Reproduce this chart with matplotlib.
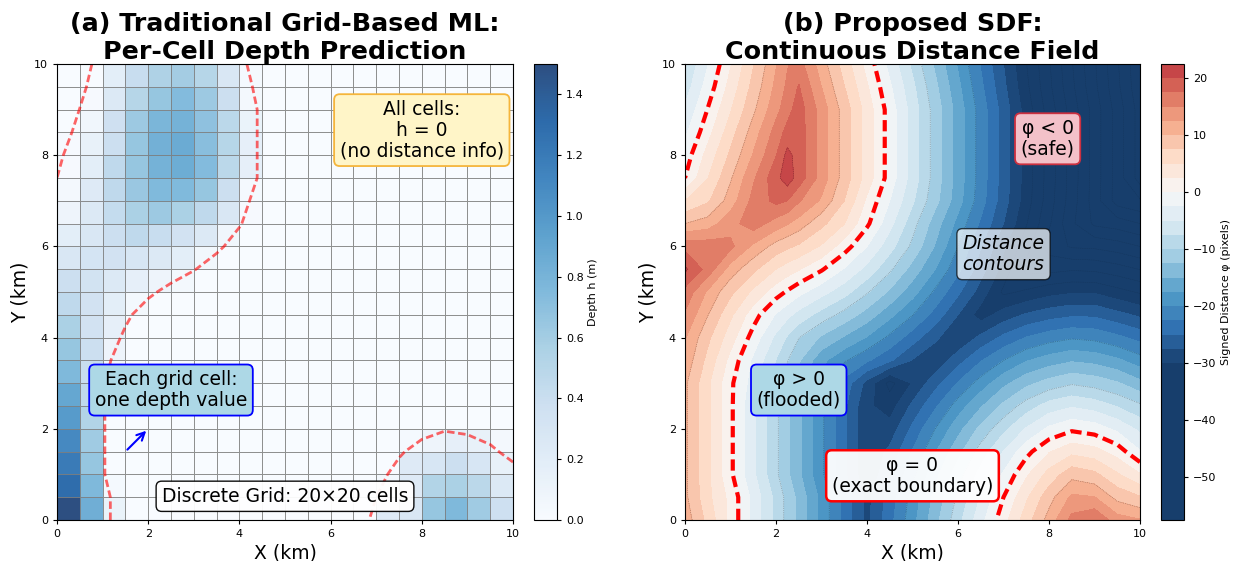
import numpy as np
import matplotlib
matplotlib.use('Agg')
import matplotlib.pyplot as plt

# grid of the signed distance field (km), 2.25 column added for the ridge
x_km = [0, 0.5, 1, 1.5, 2, 2.25, 2.5, 3, 3.5, 4, 4.5, 5, 5.5, 6, 6.5, 7, 7.5, 8, 8.5, 9, 9.5, 10]
y_km = [0, 0.5, 1, 1.5, 2, 2.5, 3, 3.5, 4, 4.5, 5, 5.5, 6, 6.5, 7, 7.5, 8, 8.5, 9, 9.5, 10]

phi_rows = [
    [11.5, 6.7, 1.7, -3.3, -8.3, -10.8, -13.3, -18.3, -23.3, -28.3, -23.4, -18.4, -13.4, -8.4, -3.4, 1.5, 6.3, 11.0, 15.8, 17.3, 13.6, 12.7],
    [10.6, 5.7, 1.7, -3.3, -8.3, -10.8, -13.3, -18.3, -23.3, -28.3, -23.9, -19.0, -14.3, -9.5, -4.8, 0.0, 4.6, 9.0, 13.0, 12.6, 9.2, 7.7],
    [10.5, 5.5, 0.5, -4.5, -9.5, -12.0, -14.5, -19.5, -24.5, -29.5, -25.6, -20.7, -15.8, -11.1, -6.6, -2.1, 2.1, 5.9, 9.1, 8.1, 5.3, 2.7],
    [10.5, 5.5, 0.5, -4.5, -9.5, -12.0, -14.5, -19.5, -24.5, -29.5, -26.9, -22.3, -17.7, -13.3, -8.9, -4.9, -0.8, 2.3, 4.3, 3.5, 1.4, -2.3],
    [10.5, 5.5, 0.5, -4.5, -9.5, -12.0, -14.5, -19.5, -24.5, -29.5, -29.0, -24.4, -20.0, -15.9, -11.8, -8.2, -4.8, -2.0, -0.5, -1.2, -3.1, -5.6],
    [10.5, 5.5, 0.5, -4.5, -9.5, -12.0, -14.5, -19.5, -24.5, -29.5, -31.2, -26.9, -22.9, -18.8, -15.3, -11.9, -8.8, -6.4, -5.3, -6.1, -7.7, -9.5],
    [10.5, 5.5, 0.5, -3.6, -8.5, -11.0, -13.4, -18.4, -23.4, -28.4, -33.3, -29.8, -25.9, -22.3, -18.9, -15.7, -13.2, -11.5, -10.3, -11.0, -12.2, -14.3],
    [11.7, 6.7, 1.7, -3.0, -7.6, -9.9, -12.2, -16.8, -19.7, -22.1, -24.6, -27.7, -29.4, -26.0, -22.7, -20.0, -17.7, -16.3, -15.3, -15.8, -17.0, -18.9],
    [12.7, 8.1, 3.6, -1.0, -5.6, -7.8, -9.9, -12.9, -15.3, -17.7, -20.6, -23.8, -27.0, -29.7, -26.9, -24.4, -22.4, -21.1, -20.3, -20.7, -21.9, -23.4],
    [14.7, 10.1, 5.5, 1.1, -2.7, -4.3, -5.9, -8.5, -10.9, -13.6, -16.8, -19.9, -23.5, -27.5, -31.2, -28.9, -27.2, -26.1, -25.4, -25.5, -26.7, -28.0],
    [16.7, 12.1, 8.1, 4.4, 1.1, -0.3, -1.7, -4.1, -6.5, -9.7, -12.9, -16.5, -20.5, -24.5, -28.6, -33.0, -32.1, -30.9, -30.3, -30.3, -31.6, -32.8],
    [20.5, 16.5, 11.4, 8.1, 5.0, 3.8, 2.7, 0.3, -2.7, -5.8, -9.5, -13.5, -17.5, -21.8, -26.4, -31.0, -35.8, -35.8, -35.3, -35.5, -36.4, -37.6],
    [16.7, 16.5, 15.6, 12.0, 9.0, 8.0, 7.1, 4.7, 1.2, -2.5, -6.5, -10.6, -15.2, -20.0, -24.9, -29.6, -34.0, -38.6, -40.3, -40.5, -41.3, -42.5],
    [10.0, 11.2, 14.1, 16.3, 13.9, 12.7, 11.4, 8.2, 5.1, 0.5, -4.2, -9.0, -13.8, -18.3, -22.9, -27.5, -32.3, -37.1, -42.0, -45.5, -46.2, -47.5],
    [5.0, 7.1, 11.2, 15.8, 18.2, 17.5, 15.3, 12.1, 7.5, 2.0, -2.5, -7.1, -11.7, -16.5, -21.4, -26.4, -31.3, -36.3, -41.3, -46.2, -51.1, -52.2],
    [0.0, 4.9, 9.7, 14.6, 19.2, 21.4, 18.9, 13.9, 8.9, 3.9, -1.1, -6.1, -11.1, -16.1, -21.1, -26.1, -31.1, -36.1, -41.1, -46.1, -51.1, -56.1],
    [-1.3, 3.4, 8.0, 12.7, 17.4, 20.8, 18.9, 13.9, 8.9, 3.9, -1.1, -6.1, -11.1, -16.1, -21.1, -26.1, -31.1, -36.1, -41.1, -46.1, -51.1, -56.1],
    [-3.0, 1.6, 6.4, 11.2, 16.0, 18.4, 18.9, 13.9, 8.9, 3.9, -1.1, -6.1, -11.1, -16.1, -21.1, -26.1, -31.1, -36.1, -41.1, -46.1, -51.1, -56.1],
    [-4.6, 0.1, 4.8, 9.5, 14.2, 16.5, 18.8, 13.9, 8.9, 3.9, -1.1, -6.1, -11.1, -16.1, -21.1, -26.1, -31.1, -36.1, -41.1, -46.1, -51.1, -56.1],
    [-6.3, -1.4, 3.4, 8.3, 13.1, 15.5, 17.7, 12.5, 7.6, 2.8, -2.1, -6.9, -11.9, -16.9, -21.9, -26.9, -31.9, -36.9, -41.9, -46.9, -51.9, -56.9],
    [-7.5, -2.6, 2.3, 7.3, 12.3, 14.8, 16.1, 11.2, 6.4, 1.6, -3.3, -8.1, -13.0, -17.8, -22.7, -27.5, -32.4, -37.2, -42.3, -47.2, -52.2, -57.1],
]

# depth per cell (m), bottom row first, 20 x 20
depth_rows = [
    [1.50, 0.84, 0.12, 0, 0, 0, 0, 0, 0, 0, 0, 0, 0, 0, 0.23, 0.28, 0.66, 0.76, 0.62, 0.38],
    [1.30, 0.76, 0.03, 0, 0, 0, 0, 0, 0, 0, 0, 0, 0, 0, 0.05, 0.23, 0.53, 0.57, 0.48, 0.25],
    [1.20, 0.66, 0, 0, 0, 0, 0, 0, 0, 0, 0, 0, 0, 0, 0, 0.23, 0.29, 0.39, 0.29, 0.14],
    [1.10, 0.62, 0, 0, 0, 0, 0, 0, 0, 0, 0, 0, 0, 0, 0, 0.03, 0.09, 0.16, 0.14, 0.05],
    [0.98, 0.53, 0, 0, 0, 0, 0, 0, 0, 0, 0, 0, 0, 0, 0, 0, 0, 0, 0, 0],
    [0.90, 0.46, 0, 0, 0, 0, 0, 0, 0, 0, 0, 0, 0, 0, 0, 0, 0, 0, 0, 0],
    [0.76, 0.41, 0.05, 0, 0, 0, 0, 0, 0, 0, 0, 0, 0, 0, 0, 0, 0, 0, 0, 0],
    [0.66, 0.39, 0.09, 0, 0, 0, 0, 0, 0, 0, 0, 0, 0, 0, 0, 0, 0, 0, 0, 0],
    [0.57, 0.35, 0.16, 0, 0, 0, 0, 0, 0, 0, 0, 0, 0, 0, 0, 0, 0, 0, 0, 0],
    [0.46, 0.35, 0.18, 0.05, 0, 0, 0, 0, 0, 0, 0, 0, 0, 0, 0, 0, 0, 0, 0, 0],
    [0.39, 0.34, 0.25, 0.16, 0.09, 0.05, 0, 0, 0, 0, 0, 0, 0, 0, 0, 0, 0, 0, 0, 0],
    [0.28, 0.32, 0.35, 0.29, 0.25, 0.18, 0.06, 0, 0, 0, 0, 0, 0, 0, 0, 0, 0, 0, 0, 0],
    [0.18, 0.28, 0.39, 0.46, 0.41, 0.35, 0.25, 0.07, 0, 0, 0, 0, 0, 0, 0, 0, 0, 0, 0, 0],
    [0.09, 0.25, 0.43, 0.57, 0.63, 0.57, 0.46, 0.28, 0.02, 0, 0, 0, 0, 0, 0, 0, 0, 0, 0, 0],
    [0.05, 0.23, 0.46, 0.64, 0.75, 0.75, 0.66, 0.39, 0.03, 0, 0, 0, 0, 0, 0, 0, 0, 0, 0, 0],
    [0.02, 0.18, 0.46, 0.66, 0.81, 0.85, 0.74, 0.48, 0.16, 0, 0, 0, 0, 0, 0, 0, 0, 0, 0, 0],
    [0.02, 0.14, 0.39, 0.66, 0.83, 0.87, 0.72, 0.51, 0.16, 0, 0, 0, 0, 0, 0, 0, 0, 0, 0, 0],
    [0, 0.07, 0.37, 0.63, 0.78, 0.81, 0.69, 0.48, 0.12, 0, 0, 0, 0, 0, 0, 0, 0, 0, 0, 0],
    [0, 0.02, 0.25, 0.51, 0.66, 0.74, 0.63, 0.39, 0.05, 0, 0, 0, 0, 0, 0, 0, 0, 0, 0, 0],
    [0, 0, 0.18, 0.41, 0.55, 0.60, 0.51, 0.28, 0.03, 0, 0, 0, 0, 0, 0, 0, 0, 0, 0, 0],
]

phi = np.array(phi_rows)
depth = np.array(depth_rows)
edges = np.linspace(0, 10, 21)

W, H = 1235, 561
dash = (0, (2.7, 1.3))

def px_axes(x0, x1, y0, y1):
    return fig.add_axes([x0 / W, 1 - y1 / H, (x1 - x0) / W, (y1 - y0) / H])

fig = plt.figure(figsize=(W / 100, H / 100), dpi=100)
ax1 = px_axes(57, 513, 64, 520)
cax1 = px_axes(534, 557, 64, 520)
ax2 = px_axes(685, 1140, 64, 520)
cax2 = px_axes(1161, 1184, 64, 520)

# (a) grid cells
mesh = ax1.pcolormesh(edges, edges, depth, cmap='Blues', vmin=0, vmax=1.5, alpha=0.85,
                      edgecolors='gray', linewidth=0.7)
ax1.contour(x_km, y_km, phi, levels=[0], colors='red', linewidths=2, linestyles=[dash], alpha=0.6)
ax1.set_title('(a) Traditional Grid-Based ML:\nPer-Cell Depth Prediction', fontsize=18.3,
              fontweight='bold', pad=3, linespacing=1.22)
ax1.text(8, 8.55, 'All cells:\nh = 0\n(no distance info)', fontsize=13.5, ha='center', va='center',
         linespacing=1.12, bbox=dict(boxstyle='round,pad=0.3', fc='#FFF5C8', ec='#F5B53C', lw=1.3))
ax1.text(2.5, 2.85, 'Each grid cell:\none depth value', fontsize=13.5, ha='center', va='center',
         linespacing=1.12, bbox=dict(boxstyle='round,pad=0.3', fc='lightblue', ec='blue', lw=1.3))
ax1.annotate('', xy=(2, 2), xytext=(1.5, 1.5),
             arrowprops=dict(arrowstyle='->', color='blue', lw=1.5, mutation_scale=14))
ax1.text(5, 0.52, 'Discrete Grid: 20×20 cells', fontsize=13.5, ha='center', va='center',
         bbox=dict(boxstyle='round,pad=0.3', fc='white', ec='black', lw=1, alpha=0.95))

# (b) distance field, band colours blended by hand so alpha does not leave seams
levels = np.arange(-57.5, 22.6, 2.5)
mids = (levels[:-1] + levels[1:]) / 2
band_colors = [tuple(0.93 * np.array(plt.cm.RdBu_r((m + 30) / 60)[:3]) + 0.07) for m in mids]
cf = ax2.contourf(x_km, y_km, phi, levels=levels, colors=band_colors)
ax2.contour(x_km, y_km, phi, levels=levels[levels < -30], colors='black',
            linewidths=0.3, alpha=0.15)
ax2.contour(x_km, y_km, phi, levels=[-20, -10, 10, 20], colors='black',
            linewidths=0.5, linestyles=':', alpha=0.4)
ax2.contour(x_km, y_km, phi, levels=[0], colors='red', linewidths=3, linestyles=[dash])
ax2.set_title('(b) Proposed SDF:\nContinuous Distance Field', fontsize=18.3,
              fontweight='bold', pad=3, linespacing=1.22)
ax2.text(7.97, 8.36, 'φ < 0\n(safe)', fontsize=13.5, ha='center', va='center',
         linespacing=1.12, bbox=dict(boxstyle='round,pad=0.3', fc='#F3C1C9', ec='#CC3040', lw=1.3))
ax2.text(7, 5.83, 'Distance\ncontours', fontsize=13.5, style='italic', ha='center', va='center',
         linespacing=1.12, bbox=dict(boxstyle='round,pad=0.3', fc=(1, 1, 1, 0.7), ec=(0, 0, 0, 0.7), lw=1))
ax2.text(2.5, 2.85, 'φ > 0\n(flooded)', fontsize=13.5, ha='center', va='center',
         linespacing=1.12, bbox=dict(boxstyle='round,pad=0.3', fc='lightblue', ec='blue', lw=1.3))
ax2.text(5, 0.97, 'φ = 0\n(exact boundary)', fontsize=13.5, ha='center', va='center',
         linespacing=1.12, bbox=dict(boxstyle='round,pad=0.3', fc=(1, 1, 1, 0.95), ec='red', lw=1.8))

for ax in [ax1, ax2]:
    ax.set_xlim(0, 10)
    ax.set_ylim(0, 10)
    ax.set_xlabel('X (km)', fontsize=13.5, labelpad=3)
    ax.set_ylabel('Y (km)', fontsize=13.5, labelpad=3)
    ax.tick_params(labelsize=8, length=3)

cb1 = fig.colorbar(mesh, cax=cax1)
cb1.set_label('Depth h (m)', fontsize=8, labelpad=3)
cb1.set_ticks(np.arange(0, 1.41, 0.2))
cb1.ax.tick_params(labelsize=8, length=3)

cb2 = fig.colorbar(cf, cax=cax2)
cb2.set_label('Signed Distance φ (pixels)', fontsize=8, labelpad=3)
cb2.set_ticks(np.arange(-50, 21, 10))
cb2.ax.tick_params(labelsize=8, length=3)

fig.savefig('out.png', dpi=100)
